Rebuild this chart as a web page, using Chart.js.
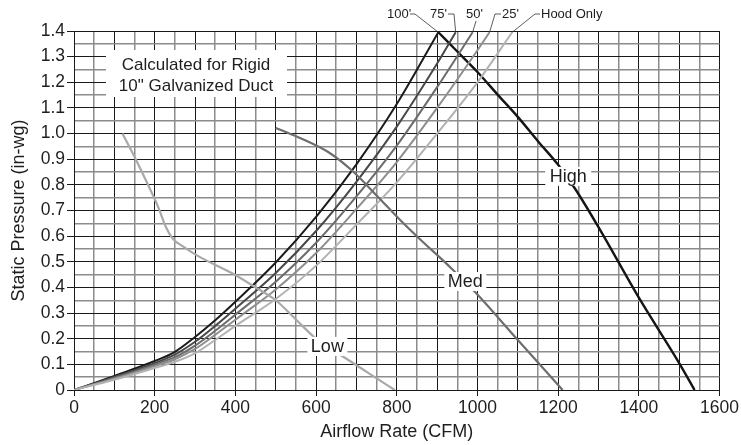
<!DOCTYPE html>
<html>
<head>
<meta charset="utf-8">
<script src="https://cdn.jsdelivr.net/npm/chart.js@4.4.0/dist/chart.umd.min.js"></script>
<style>
  body { margin: 0; background: #fff; }
  canvas { display: block; }
</style>
</head>
<body>
<canvas id="chart" width="741" height="445"></canvas>
<script>
// duct system curves (CFM vs in-wg)
var flow100 = [0, 100, 200, 250, 300, 350, 400, 500, 600, 700, 800, 903];
var sp100   = [0, 0.055, 0.113, 0.149, 0.207, 0.272, 0.344, 0.497, 0.675, 0.88, 1.115, 1.395];
var flow75  = [0, 100, 200, 250, 300, 350, 400, 500, 600, 700, 800, 900, 946];
var sp75    = [0, 0.051, 0.105, 0.138, 0.188, 0.25, 0.317, 0.456, 0.62, 0.812, 1.027, 1.273, 1.395];
var flow50  = [0, 100, 200, 250, 300, 350, 400, 500, 600, 700, 800, 900, 988];
var sp50    = [0, 0.047, 0.099, 0.128, 0.173, 0.231, 0.294, 0.422, 0.574, 0.755, 0.953, 1.181, 1.395];
var flow25  = [0, 100, 200, 250, 300, 350, 400, 500, 600, 700, 800, 900, 1000, 1030];
var sp25    = [0, 0.044, 0.093, 0.12, 0.16, 0.215, 0.274, 0.392, 0.534, 0.706, 0.889, 1.1, 1.325, 1.395];
var flowHood = [0, 100, 200, 250, 300, 350, 400, 500, 600, 700, 800, 900, 1000, 1086];
var spHood   = [0, 0.04, 0.086, 0.11, 0.143, 0.195, 0.25, 0.355, 0.485, 0.645, 0.81, 1.0, 1.2, 1.395];

// fan curves
var flowHigh = [903, 950, 1000, 1051, 1100, 1150, 1199, 1244, 1300, 1400, 1500, 1538];
var spHigh   = [1.395, 1.32, 1.24, 1.15, 1.065, 0.97, 0.88, 0.78, 0.635, 0.36, 0.105, 0];
var flowMed = [500, 557, 631, 693, 754, 804, 853, 935, 997, 1100, 1211];
var spMed   = [1.022, 0.985, 0.927, 0.85, 0.752, 0.67, 0.595, 0.475, 0.377, 0.195, 0];
var flowLow = [120, 153, 182, 207, 228, 245, 270, 310, 392, 450, 500, 550, 600, 680, 730, 795];
var spLow   = [1.0, 0.9, 0.805, 0.72, 0.635, 0.59, 0.56, 0.52, 0.455, 0.40, 0.35, 0.275, 0.2, 0.117, 0.066, 0];

var sysLabels = ["100'", "75'", "50'", "25'", "Hood Only"];
var fanLabels = ['High', 'Med', 'Low'];

var FONT = '"Liberation Sans", Arial, Helvetica, sans-serif';

function pts(xs, ys) {
  return xs.map(function(x, i) { return {x: x, y: ys[i]}; });
}

function line(label, xs, ys, color, width) {
  return {
    label: label,
    data: pts(xs, ys),
    borderColor: color,
    borderWidth: width,
    pointRadius: 0,
    fill: false,
    cubicInterpolationMode: 'monotone'
  };
}

// labels, leader lines and the note box
var notesPlugin = {
  id: 'notes',
  afterDatasetsDraw: function(chart) {
    var c = chart.ctx, xs = chart.scales.x, ys = chart.scales.y;
    c.save();
    c.textAlign = 'center';
    c.textBaseline = 'middle';

    // note box
    c.fillStyle = '#fff';
    c.fillRect(106, 50, 181, 47);
    c.fillStyle = '#1e1e1e';
    c.font = '17px ' + FONT;
    c.fillText('Calculated for Rigid', 196, 65);
    c.fillText('10" Galvanized Duct', 196, 86);

    // fan curve labels
    var fanPos = [[1225, 0.835, 46], [970, 0.425, 42], [628, 0.172, 40]];
    c.font = '18px ' + FONT;
    fanLabels.forEach(function(t, i) {
      var px = xs.getPixelForValue(fanPos[i][0]);
      var py = ys.getPixelForValue(fanPos[i][1]);
      var w = fanPos[i][2];
      c.fillStyle = '#fff';
      c.fillRect(px - w / 2, py - 9, w, 19);
      c.fillStyle = '#1e1e1e';
      c.fillText(t, px, py + 1);
    });

    // system curve tags on top
    var tp = [flow100, flow75, flow50, flow25, flowHood].map(function(f, i) {
      var s = [sp100, sp75, sp50, sp25, spHood][i];
      return [xs.getPixelForValue(f[f.length - 1]), ys.getPixelForValue(s[s.length - 1])];
    });
    c.font = '13px ' + FONT;
    c.fillStyle = '#1e1e1e';
    c.strokeStyle = '#333';
    c.lineWidth = 0.8;
    c.textAlign = 'left';
    c.fillText(sysLabels[0], 387, 14);
    c.fillText(sysLabels[1], 430, 14);
    c.fillText(sysLabels[2], 466, 14);
    c.fillText(sysLabels[3], 502, 14);
    c.fillText(sysLabels[4], 541, 14);
    c.beginPath();
    c.moveTo(410, 14); c.lineTo(415, 14); c.lineTo(tp[0][0], tp[0][1]);
    c.moveTo(448, 14); c.lineTo(454, 14); c.lineTo(tp[1][0], tp[1][1]);
    c.moveTo(476, 21); c.lineTo(tp[2][0], tp[2][1]);
    c.moveTo(tp[3][0], tp[3][1]); c.lineTo(495, 14); c.lineTo(501, 14);
    c.moveTo(tp[4][0], tp[4][1]); c.lineTo(535, 14); c.lineTo(540, 14);
    c.stroke();
    c.restore();
  }
};

var ctx = document.getElementById('chart').getContext('2d');

new Chart(ctx, {
  type: 'line',
  data: {
    datasets: [
      line(fanLabels[2], flowLow, spLow, '#a9a9a9', 2.2),
      line(fanLabels[1], flowMed, spMed, '#6e6e6e', 2.2),
      line(sysLabels[4], flowHood, spHood, '#b2b2b2', 2),
      line(sysLabels[3], flow25, sp25, '#8e8e8e', 2),
      line(sysLabels[2], flow50, sp50, '#6c6c6c', 2),
      line(sysLabels[1], flow75, sp75, '#484848', 2),
      line(sysLabels[0], flow100, sp100, '#1c1c1c', 2),
      line(fanLabels[0], flowHigh, spHigh, '#151515', 2.4)
    ]
  },
  options: {
    responsive: false,
    devicePixelRatio: 1,
    animation: false,
    layout: { padding: { left: 0, right: 19, top: 31, bottom: 0 } },
    plugins: {
      legend: { display: false },
      tooltip: { enabled: false }
    },
    scales: {
      x: {
        type: 'linear',
        min: 0,
        max: 1600,
        afterFit: function(s) { s.height = 55; },
        ticks: {
          stepSize: 50,
          autoSkip: false,
          maxRotation: 0,
          padding: 2,
          color: '#1e1e1e',
          font: { family: FONT, size: 17.5 },
          callback: function(v) { return v % 200 === 0 ? String(v) : ''; }
        },
        grid: {
          tickLength: 6,
          color: function(c) { return c.tick && c.tick.value % 100 === 0 ? '#1a1a1a' : '#8c8c8c'; },
          lineWidth: function(c) { return c.tick && c.tick.value % 100 === 0 ? 1 : 1.5; },
          tickColor: function(c) { return c.tick && c.tick.value % 200 === 0 ? '#1a1a1a' : 'rgba(0,0,0,0)'; }
        },
        border: { color: '#1a1a1a', width: 1 },
        title: {
          display: true,
          text: 'Airflow Rate (CFM)',
          color: '#1e1e1e',
          font: { family: FONT, size: 18 },
          padding: { top: 0, bottom: 2 }
        }
      },
      y: {
        type: 'linear',
        min: 0,
        max: 1.4,
        afterFit: function(s) { s.width = 74; },
        ticks: {
          stepSize: 0.05,
          autoSkip: false,
          padding: 2,
          color: '#1e1e1e',
          font: { family: FONT, size: 17.5 },
          callback: function(v) {
            var i = Math.round(v * 20);
            if (i % 2 !== 0) return '';
            return i === 0 ? '0' : (i / 20).toFixed(1);
          }
        },
        grid: {
          tickLength: 7,
          color: function(c) { return c.tick && Math.round(c.tick.value * 20) % 2 === 0 ? '#1a1a1a' : '#8c8c8c'; },
          lineWidth: function(c) { return c.tick && Math.round(c.tick.value * 20) % 2 === 0 ? 1 : 1.5; },
          tickColor: function(c) { return c.tick && Math.round(c.tick.value * 20) % 2 === 0 ? '#1a1a1a' : 'rgba(0,0,0,0)'; }
        },
        border: { color: '#1a1a1a', width: 1 },
        title: {
          display: true,
          text: 'Static Pressure (in-wg)',
          color: '#1e1e1e',
          font: { family: FONT, size: 18 },
          padding: { top: 8, bottom: 0 }
        }
      }
    }
  },
  plugins: [notesPlugin]
});
</script>
</body>
</html>
